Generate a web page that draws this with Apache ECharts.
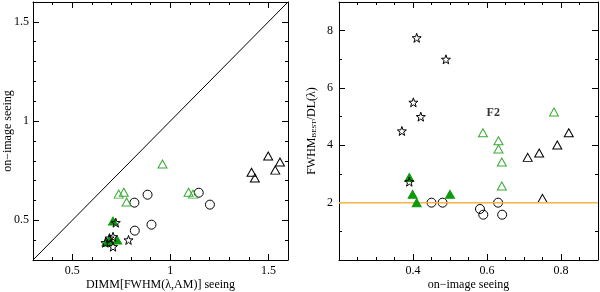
<!DOCTYPE html>
<html>
<head>
<meta charset="utf-8">
<script src="https://cdn.jsdelivr.net/npm/echarts@6/dist/echarts.min.js"></script>
<style>html,body{margin:0;padding:0;background:#fff}#c{width:600px;height:292px}</style>
</head>
<body>
<div id="c"></div>
<script>
// ---- Left panel: DIMM seeing (x) vs on-image seeing (y)
var leftBlackTri = [[1.499,0.824],[1.559,0.794],[1.414,0.742],[1.431,0.713],[1.535,0.753]];
var leftGreenTri = [[0.960,0.784],[0.737,0.632],[0.763,0.641],[0.777,0.592],[1.093,0.641],[1.116,0.632]];
var leftCircles  = [[0.884,0.629],[0.817,0.589],[1.145,0.639],[1.202,0.579],[0.904,0.478],[0.819,0.448]];
var leftStars    = [[0.722,0.488],[0.708,0.417],[0.708,0.367],[0.787,0.401],[0.669,0.387],[0.690,0.410]];
var leftGreenFilled = [[0.708,0.496],[0.675,0.390],[0.690,0.400],[0.729,0.401]];
var leftDiagonal = [[0.3,0.3],[1.6,1.6]];

// ---- Right panel: on-image seeing (x) vs FWHM_BEST/DL (y)
var rightStars    = [[0.410,7.75],[0.489,7.0],[0.401,5.5],[0.421,5.0],[0.370,4.5],[0.390,2.73]];
var rightGreenTri = [[0.589,4.44],[0.781,5.16],[0.631,4.16],[0.631,3.87],[0.640,3.42],[0.640,2.58]];
var rightBlackTri = [[0.821,4.44],[0.790,4.01],[0.710,3.58],[0.741,3.73],[0.750,2.15]];
var rightCircles  = [[0.450,2.0],[0.480,2.0],[0.581,1.78],[0.590,1.58],[0.630,2.0],[0.641,1.58]];
var rightGreenFilled = [[0.390,2.88],[0.399,2.29],[0.410,2.0],[0.500,2.29]];
var rightRefLine = [[0.2,2],[0.9,2]];
var rightAnnot = [[0.617,5.12,'F2']];

// ---- Ticks
var leftXMajor = [0.5,1,1.5];
var leftXMinor = [0.4,0.6,0.7,0.8,0.9,1.1,1.2,1.3,1.4,1.6];
var leftYMajor = [0.5,1,1.5];
var leftYMinor = [0.4,0.6,0.7,0.8,0.9,1.1,1.2,1.3,1.4,1.6];
var rightXMajor = [0.4,0.6,0.8];
var rightXMinor = [0.25,0.3,0.35,0.45,0.5,0.55,0.65,0.7,0.75,0.85];
var rightYMajor = [2,4,6,8];
var rightYMinor = [1,3,5,7,9];

var FONT = 'Liberation Serif';
var chart = echarts.init(document.getElementById('c'), null, {renderer:'canvas'});

function axisSet(kind, gridIndex, min, max, major, minor, name, nameGap, labelMargin, nameRich) {
  var posA = kind === 'x' ? 'bottom' : 'left';
  var posB = kind === 'x' ? 'top' : 'right';
  function base(pos, vals, len, showLine, showLabel) {
    return {
      type:'value', gridIndex:gridIndex, min:min, max:max, position:pos,
      splitLine:{show:false},
      axisLine:{show:showLine, onZero:false, lineStyle:{color:'#000', width:1}},
      axisTick:{show:true, inside:true, length:len, customValues:vals, lineStyle:{color:'#000', width:1}},
      axisLabel:{show:showLabel, customValues:vals, margin:labelMargin, color:'#000',
                 fontFamily:FONT, fontSize:12,
                 formatter:function(v){return String(+v.toFixed(2));}}
    };
  }
  var main = base(posA, major, 6, true, true);
  main.name = name;
  main.nameLocation = 'middle';
  main.nameGap = nameGap;
  main.nameMoveOverlap = false;
  main.nameTextStyle = {color:'#000', fontFamily:FONT, fontSize:12};
  if (nameRich) main.nameTextStyle.rich = nameRich;
  if (kind === 'y') main.nameRotate = 90;
  return [main,
          base(posA, minor, 3, false, false),
          base(posB, major, 6, true, false),
          base(posB, minor, 3, false, false)];
}

var xAxes = [].concat(
  axisSet('x', 0, 0.3, 1.6, leftXMajor, leftXMinor, 'DIMM[FWHM(\u03BB,AM)] seeing', 19, 5),
  axisSet('x', 1, 0.2, 0.9, rightXMajor, rightXMinor, 'on\u2212image seeing', 19, 5)
);
var yAxes = [].concat(
  axisSet('y', 0, 0.3, 1.6, leftYMajor, leftYMinor, 'on\u2212image seeing', 19, 4),
  axisSet('y', 1, 0, 9, rightYMajor, rightYMinor,
          '{a|FWHM}{b|BEST}{a|/DL(\u03BB)}', 21, 6,
          {a:{fontFamily:FONT, fontSize:12, color:'#000'},
           b:{fontFamily:FONT, fontSize:7, color:'#000', padding:[5,0,0,0]}})
);

var OPEN = 'rgba(0,0,0,0)';
var GREEN_OPEN = '#3aa935';
var GREEN_FILL = '#0c9a0c';
var STAR = 'path://M0,-10L2.35,-3.24L9.51,-3.09L3.8,1.24L5.88,8.09L0,4L-5.88,8.09L-3.8,1.24L-9.51,-3.09L-2.35,-3.24Z';

function sc(data, xi, yi, symbol, size, fill, stroke, z) {
  return {type:'scatter', xAxisIndex:xi, yAxisIndex:yi, data:data, symbol:symbol, symbolSize:size,
          itemStyle:{color:fill, borderColor:stroke, borderWidth:1, opacity:1}, z:z||2,
          emphasis:{disabled:true}, silent:true};
}

var series = [
  {type:'line', xAxisIndex:0, yAxisIndex:0, data:leftDiagonal, symbol:'none',
   lineStyle:{color:'#000', width:1}, silent:true},
  sc(leftCircles, 0, 0, 'circle', 9, OPEN, '#000'),
  sc(leftBlackTri, 0, 0, 'triangle', [9,8], OPEN, '#000'),
  sc(leftGreenTri, 0, 0, 'triangle', [9,8], OPEN, GREEN_OPEN),
  sc(leftGreenFilled, 0, 0, 'triangle', [9,8], GREEN_FILL, GREEN_FILL, 3),
  sc(leftStars, 0, 0, STAR, [9,9], OPEN, '#000', 4),

  {type:'line', xAxisIndex:4, yAxisIndex:4, data:rightRefLine, symbol:'none',
   lineStyle:{color:'#f5b445', width:1.5}, silent:true},
  sc(rightCircles, 4, 4, 'circle', 9, OPEN, '#000'),
  sc(rightBlackTri, 4, 4, 'triangle', [9,8], OPEN, '#000'),
  sc(rightGreenTri, 4, 4, 'triangle', [9,8], OPEN, GREEN_OPEN),
  sc(rightGreenFilled, 4, 4, 'triangle', [9,8], GREEN_FILL, GREEN_FILL, 3),
  sc(rightStars, 4, 4, STAR, [9,9], OPEN, '#000', 4),
  {type:'scatter', xAxisIndex:4, yAxisIndex:4, data:rightAnnot, symbolSize:0, silent:true,
   label:{show:true, position:'inside', formatter:function(p){return p.data[2];},
          color:'#000', fontFamily:FONT, fontSize:12, fontWeight:'bold'}}
];

chart.setOption({
  animation:false,
  backgroundColor:'#fff',
  grid:[{left:33, top:2, width:255, height:258, outerBoundsMode:'none'},
        {left:339, top:2, width:259, height:258, outerBoundsMode:'none'}],
  xAxis:xAxes,
  yAxis:yAxes,
  series:series
});
</script>
</body>
</html>
